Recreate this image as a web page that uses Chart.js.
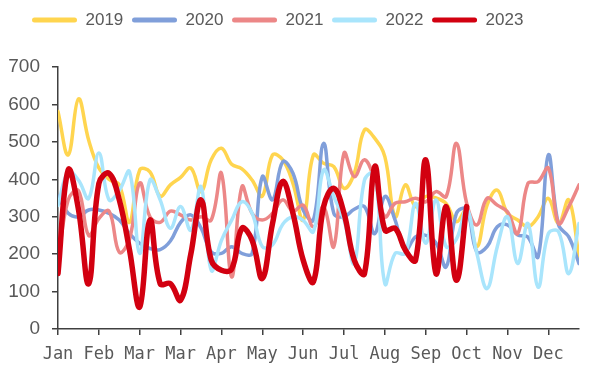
<!DOCTYPE html>
<html>
<head>
<meta charset="utf-8">
<script src="https://cdn.jsdelivr.net/npm/chart.js@4"></script>
<style>
  html, body { margin: 0; padding: 0; background: #ffffff; }
  canvas { display: block; }
</style>
</head>
<body>
<canvas id="chart" width="590" height="365"></canvas>
<script>
// Weekly values per year (52 weeks); 2023 runs through early October.
const monthTicks = ['Jan', 'Feb', 'Mar', 'Mar', 'Apr', 'May', 'Jun', 'Jul', 'Aug', 'Sep', 'Oct', 'Nov', 'Dec'];
const years = ['2019', '2020', '2021', '2022', '2023'];

const y2019 = [581, 465, 615, 505, 430, 400, 385, 285, 425, 420, 355, 385, 405, 430, 367, 452, 483, 440, 428, 398,
               355, 465, 452, 389, 291, 465, 443, 434, 376, 416, 532, 510, 460, 300, 385, 327, 354, 350, 335, 287,
               318, 220, 331, 371, 309, 291, 273, 300, 349, 282, 345, 193];
const y2020 = [355, 309, 300, 318, 318, 309, 291, 255, 229, 215, 212, 235, 285, 305, 270, 206, 202, 220, 202, 202,
               407, 345, 447, 416, 318, 291, 496, 309, 300, 320, 327, 255, 354, 291, 211, 246, 250, 230, 166, 309,
               320, 206, 220, 273, 278, 251, 246, 193, 465, 278, 246, 175];
const y2021 = [180, 345, 370, 250, 295, 315, 205, 240, 390, 300, 285, 315, 305, 291, 300, 291, 416, 139, 380, 309,
               291, 309, 345, 315, 331, 273, 327, 220, 470, 407, 452, 398, 300, 336, 340, 349, 340, 367, 354, 496,
               336, 278, 349, 331, 313, 255, 389, 394, 430, 282, 327, 385];
const y2022 = [330, 420, 398, 349, 470, 345, 370, 420, 202, 398, 345, 269, 327, 264, 380, 157, 237, 291, 340, 309,
               220, 225, 280, 300, 290, 260, 425, 354, 291, 175, 398, 416, 121, 202, 202, 336, 229, 345, 220, 240,
               320, 202, 108, 220, 300, 175, 282, 112, 255, 260, 148, 282];
const y2023 = [148, 425, 320, 121, 389, 416, 345, 211, 59, 291, 121, 121, 77, 200, 345, 184, 157, 160, 269, 237,
               135, 282, 394, 309, 184, 126, 327, 376, 309, 184, 148, 434, 264, 269, 211, 184, 452, 148, 327, 130,
               327];

const seriesValues = [y2019, y2020, y2021, y2022, y2023];
const seriesColors = ['#FFD54F', '#809FDA', '#EC8787', '#A9E5FC', '#D20010'];
const seriesWidths = [3.5, 3.5, 3.5, 3.5, 5.5];

const textColor = '#595959';
const axisColor = '#404040';

// Legend row: extra room below it, and its items start 32px from the left edge.
const legendPlacement = {
  id: 'legendPlacement',
  beforeInit(chart) {
    const originalFit = chart.legend.fit;
    chart.legend.fit = function () {
      originalFit.call(this);
      this.height += 28.5;
    };
  },
  afterLayout(chart) {
    const lg = chart.legend;
    const shift = 23.3 - lg.left;
    lg.left += shift;
    lg.right += shift;
  }
};

const datasets = years.map((year, k) => ({
  label: year,
  data: seriesValues[k].map((v, i) => ({ x: i, y: v })),
  borderColor: seriesColors[k],
  backgroundColor: seriesColors[k],
  borderWidth: seriesWidths[k],
  tension: 0.4,
  fill: false,
  pointRadius: 0,
  pointHoverRadius: 0,
  borderCapStyle: 'round',
  borderJoinStyle: 'round',
  order: years.length - k
}));

new Chart(document.getElementById('chart'), {
  type: 'line',
  data: { datasets },
  plugins: [legendPlacement],
  options: {
    responsive: false,
    animation: false,
    events: [],
    layout: { padding: { top: 2.8, left: 0, right: 11, bottom: 0 } },
    plugins: {
      tooltip: { enabled: false },
      legend: {
        position: 'top',
        align: 'start',
        labels: {
          boxWidth: 45,
          boxHeight: 5,
          padding: 8.7,
          color: textColor,
          font: { family: 'Liberation Sans', size: 17 },
          generateLabels(chart) {
            return chart.data.datasets.map((ds, i) => ({
              text: ds.label,
              fillStyle: ds.borderColor,
              strokeStyle: ds.borderColor,
              lineWidth: 0,
              borderRadius: 2.5,
              hidden: false,
              datasetIndex: i,
              fontColor: textColor
            }));
          }
        }
      }
    },
    scales: {
      x: {
        type: 'linear',
        min: 0,
        max: 51,
        afterBuildTicks(scale) {
          scale.ticks = monthTicks.map((_, j) => ({ value: j * 4 }));
        },
        afterFit(scale) { scale.height = 36; },
        ticks: {
          autoSkip: false,
          maxRotation: 0,
          padding: 9,
          color: textColor,
          font: { family: 'DejaVu Sans Mono', size: 17 },
          callback: (v) => monthTicks[Math.round(v / 4)]
        },
        grid: {
          display: true,
          drawOnChartArea: false,
          drawTicks: true,
          tickLength: 6,
          color: axisColor,
          lineWidth: 1.5
        },
        border: { display: true, color: axisColor, width: 1.5 }
      },
      y: {
        min: 0,
        max: 700,
        afterFit(scale) { scale.width = 58; },
        ticks: {
          stepSize: 100,
          padding: 12,
          color: textColor,
          font: { family: 'Liberation Sans', size: 19 }
        },
        grid: {
          display: true,
          drawOnChartArea: false,
          drawTicks: true,
          tickLength: 6,
          color: axisColor,
          lineWidth: 1.5
        },
        border: { display: true, color: axisColor, width: 1.5 }
      }
    }
  }
});
</script>
</body>
</html>
